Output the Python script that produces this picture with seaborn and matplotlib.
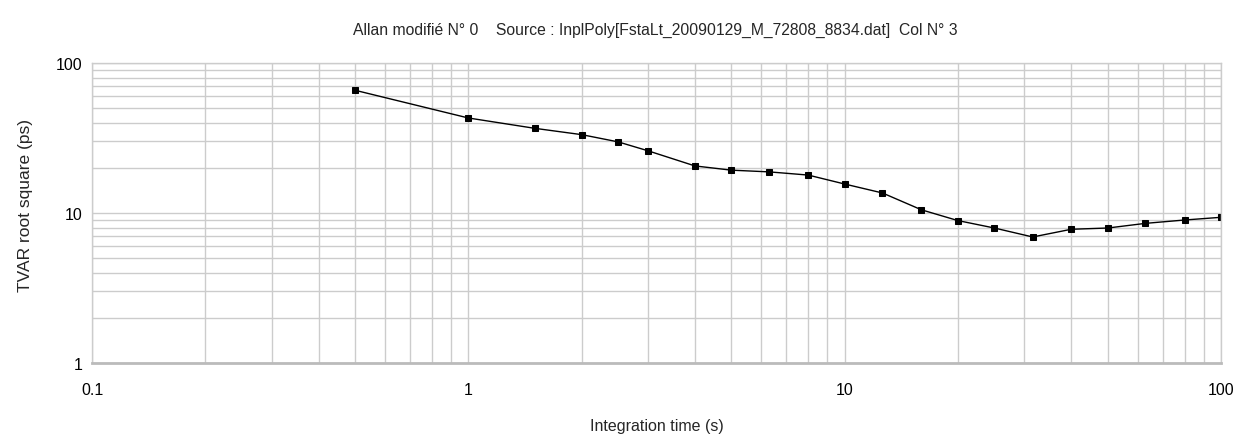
import numpy as np
import pandas as pd
import matplotlib
matplotlib.use('Agg')
import matplotlib.pyplot as plt
import seaborn as sns
from matplotlib.ticker import FixedLocator, FixedFormatter, LogLocator, NullFormatter

# integration times (s) and TVAR root square (ps)
tau = [0.5, 1, 1.5, 2, 2.5, 3, 4, 5, 6.3, 8, 10, 12.6, 16, 20, 25, 31.6, 40, 50, 63, 80, 100]
tvar = [65.8, 43.0, 36.7, 33.3, 29.8, 26.0, 20.6, 19.3, 18.8, 17.9, 15.6, 13.6, 10.5, 8.9,
        7.94, 6.92, 7.79, 7.94, 8.53, 8.98, 9.36]
title = "Allan modifié N° 0    Source : InplPoly[FstaLt_20090129_M_72808_8834.dat]  Col N° 3"

df = pd.DataFrame({'tau': tau, 'tvar': tvar})

sns.set_style('white')
plt.rcParams['font.family'] = ['Liberation Sans', 'DejaVu Sans']

fig = plt.figure(figsize=(12.45, 4.39), dpi=100)
ax = fig.add_axes([92 / 1245, 1 - 364 / 439, (1221 - 92) / 1245, 300 / 439])

sns.lineplot(data=df, x='tau', y='tvar', ax=ax, color='black', linewidth=1,
             marker='s', markersize=5, markeredgecolor='black', markerfacecolor='black')

ax.set_xscale('log')
ax.set_yscale('log')
ax.set_xlim(0.1, 100)
ax.set_ylim(1, 100)

ax.xaxis.set_major_locator(FixedLocator([0.1, 1, 10, 100]))
ax.xaxis.set_major_formatter(FixedFormatter(['0.1', '1', '10', '100']))
ax.yaxis.set_major_locator(FixedLocator([1, 10, 100]))
ax.yaxis.set_major_formatter(FixedFormatter(['1', '10', '100']))
ax.xaxis.set_minor_locator(LogLocator(base=10, subs=np.arange(2, 10)))
ax.yaxis.set_minor_locator(LogLocator(base=10, subs=np.arange(2, 10)))
ax.xaxis.set_minor_formatter(NullFormatter())
ax.yaxis.set_minor_formatter(NullFormatter())

ax.grid(True, which='both', color='#cccccc', linewidth=1)
ax.set_axisbelow(True)
ax.tick_params(which='both', length=0, colors='black')
ax.tick_params(axis='x', pad=14, labelsize=11.5)
ax.tick_params(axis='y', pad=7, labelsize=11.5)
for s in ax.spines.values():
    s.set_color('#cccccc')
    s.set_linewidth(1)
ax.spines['bottom'].set_color('#bbbbbb')
ax.spines['bottom'].set_linewidth(2)

ax.set_xlabel('Integration time (s)', fontsize=11.5, labelpad=15)
ax.set_ylabel('TVAR root square (ps)', fontsize=12.5)
ax.yaxis.set_label_coords(-(92 - 33) / 1129, (364 - 206) / 300)
fig.text(655 / 1245, 1 - 30 / 439, title, ha='center', va='center', fontsize=11.3)

fig.savefig('out.png', dpi=100)
